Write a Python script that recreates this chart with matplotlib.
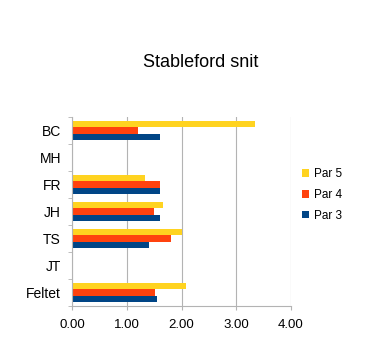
import numpy as np
import matplotlib.pyplot as plt

spillere = ["BC", "MH", "FR", "JH", "TS", "JT", "Feltet"]
par5 = [3.35, 0, 1.34, 1.67, 2.00, 0, 2.09]
par4 = [1.20, 0, 1.60, 1.50, 1.80, 0, 1.52]
par3 = [1.60, 0, 1.60, 1.60, 1.40, 0, 1.55]

plt.rcParams['font.family'] = ['Liberation Sans', 'DejaVu Sans']

fig = plt.figure(figsize=(3.66, 3.47), dpi=100)
ax = fig.add_axes([0.197, 0.118, 0.598, 0.545])

y = np.arange(len(spillere))
h = 0.24
ax.barh(y - h, par5, height=h, color='#ffd320', label='Par 5')
ax.barh(y, par4, height=h, color='#ff420e', label='Par 4')
ax.barh(y + h, par3, height=h, color='#004586', label='Par 3')

ax.set_ylim(len(spillere) - 0.5, -0.5)
ax.set_xlim(0, 4)
ax.set_xticks([0, 1, 2, 3, 4])
ax.set_xticklabels(['0.00', '1.00', '2.00', '3.00', '4.00'])
ax.set_yticks(y)
ax.set_yticklabels(spillere)
ax.set_yticks(np.arange(len(spillere) + 1) - 0.5, minor=True)
ax.tick_params(axis='y', which='major', length=0, pad=8, labelsize=10)
ax.tick_params(axis='y', which='minor', length=3, color='#b3b3b3')
ax.tick_params(axis='x', length=3, color='#b3b3b3', labelsize=9.5, pad=6)

ax.grid(axis='x', color='#b3b3b3', linewidth=0.8)
ax.set_axisbelow(True)
for s in ['top', 'right']:
    ax.spines[s].set_visible(False)
for s in ['left', 'bottom']:
    ax.spines[s].set_color('#b3b3b3')

fig.text(0.549, 0.82, 'Stableford snit', ha='center', va='center', fontsize=13)

ax.legend(loc='upper left', bbox_to_anchor=(1.014, 0.773), frameon=False,
          handlelength=0.6, handleheight=0.6, handletextpad=0.35,
          labelspacing=0.75, fontsize=8.5, borderaxespad=0.3)

fig.savefig('out.png', dpi=100)
